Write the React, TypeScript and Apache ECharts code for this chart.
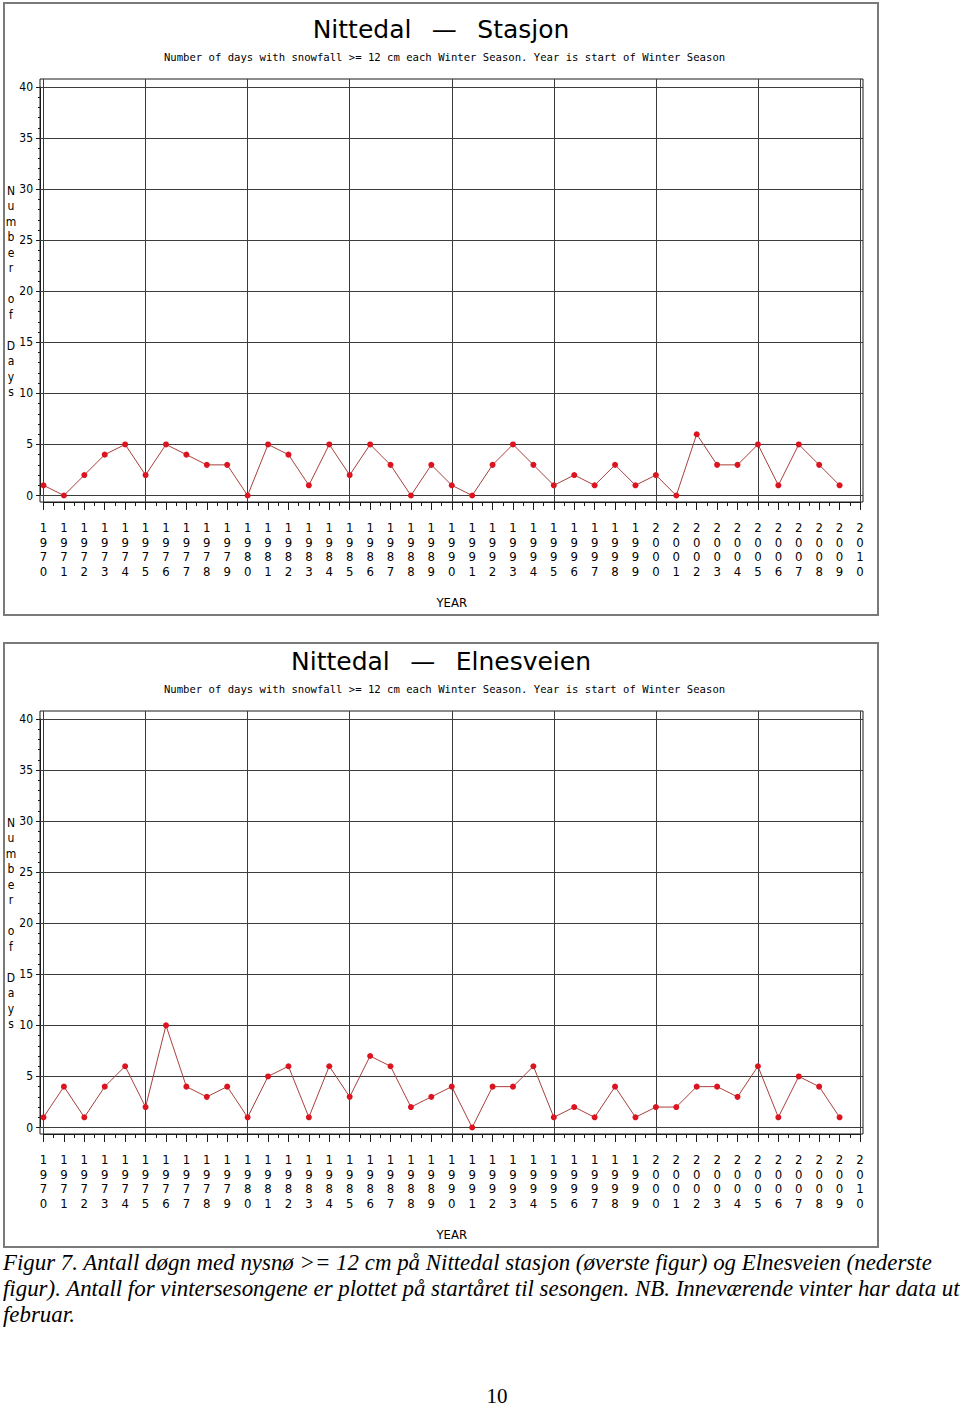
import React, { useEffect, useRef } from "react";
import * as echarts from "echarts";

// ---------- data ----------
const seasonStartYears = [
  1970, 1971, 1972, 1973, 1974, 1975, 1976, 1977, 1978, 1979,
  1980, 1981, 1982, 1983, 1984, 1985, 1986, 1987, 1988, 1989,
  1990, 1991, 1992, 1993, 1994, 1995, 1996, 1997, 1998, 1999,
  2000, 2001, 2002, 2003, 2004, 2005, 2006, 2007, 2008, 2009,
];
const stasjonDays = [
  1, 0, 2, 4, 5, 2, 5, 4, 3, 3,
  0, 5, 4, 1, 5, 2, 5, 3, 0, 3,
  1, 0, 3, 5, 3, 1, 2, 1, 3, 1,
  2, 0, 6, 3, 3, 5, 1, 5, 3, 1,
];
const elnesveienDays = [
  1, 4, 1, 4, 6, 2, 10, 4, 3, 4,
  1, 5, 6, 1, 6, 3, 7, 6, 2, 3,
  4, 0, 4, 4, 6, 1, 2, 1, 4, 1,
  2, 2, 4, 4, 3, 6, 1, 5, 4, 1,
];
const panelTitles = ["Nittedal \u2002\u2014\u2002 Stasjon", "Nittedal \u2002\u2014\u2002 Elnesveien"];
const subTitle =
  "Number of days with snowfall >= 12 cm each Winter Season. Year is start of Winter Season";
const xAxisName = "YEAR";
const yAxisName = "Number of Days";
const xMin = 1970;
const xMax = 2010;
const yMin = 0;
const yMax = 40;
const captionLines = [
  "Figur 7. Antall døgn med nysnø >= 12 cm på Nittedal stasjon (øverste figur) og Elnesveien (nederste",
  "figur). Antall for vintersesongene er plottet på startåret til sesongen. NB. Inneværende vinter har data ut",
  "februar.",
];
const pageNumber = "10";

// ---------- layout / style ----------
const W = 960;
const H = 1409;
const PANEL_DY = 632;
const GRID_LEFT = 43.5;
const GRID_RIGHT_X = 860;
const GRID_TOP = 87;
const GRID_H = 408.5;
const FRAME = { x: 40, y: 79, w: 823, h: 423 };
const NARROW = "'Liberation Sans Narrow', 'DejaVu Sans Condensed', 'Arial Narrow', sans-serif";
const AXIS_C = "#1a1a1a";
const GRID_C = "#3c3c3c";
const MARK_C = "#dc1420";
const LINE_C = "#a8403c";

function verticalDigits(v: number) {
  return String(Math.round(v)).split("").join("\n");
}

function stackedLetters(s: string) {
  return s.split("").join("\n").replace(/\n \n/g, "\n\n");
}

function buildOption() {
  const grids: any[] = [];
  const xAxes: any[] = [];
  const yAxes: any[] = [];
  const series: any[] = [];
  const graphics: any[] = [];
  const datasets = [stasjonDays, elnesveienDays];

  datasets.forEach((vals, k) => {
    const dy = k * PANEL_DY;
    grids.push({
      left: GRID_LEFT,
      top: GRID_TOP + dy,
      width: GRID_RIGHT_X - GRID_LEFT,
      height: GRID_H,
      containLabel: false,
    });
    const gi = k;
    const xBase = { type: "value", gridIndex: gi, min: xMin, max: xMax };
    xAxes.push(
      {
        ...xBase,
        position: "bottom",
        offset: 6.5,
        interval: 1,
        axisLine: { show: true, onZero: false, lineStyle: { color: AXIS_C, width: 1 } },
        axisTick: { show: true, inside: false, length: 8, lineStyle: { color: AXIS_C, width: 1 } },
        minorTick: { show: true, splitNumber: 2, length: 4, lineStyle: { color: AXIS_C, width: 1 } },
        axisLabel: {
          show: true,
          margin: 18,
          formatter: verticalDigits,
          fontFamily: NARROW,
          fontSize: 13,
          lineHeight: 14.7,
          color: "#000",
        },
        splitLine: { show: false },
        minorSplitLine: { show: false },
        name: xAxisName,
        nameLocation: "middle",
        nameGap: 100,
        nameTextStyle: { fontFamily: NARROW, fontSize: 13, color: "#000", verticalAlign: "middle" },
      },
      {
        ...xBase,
        position: "bottom",
        offset: 6.5,
        interval: 5,
        axisLine: { show: false, onZero: false },
        axisTick: { show: true, inside: true, length: 6.5, lineStyle: { color: GRID_C, width: 1 } },
        axisLabel: { show: false },
        splitLine: { show: true, lineStyle: { color: GRID_C, width: 1 } },
      },
      {
        ...xBase,
        position: "top",
        offset: 8,
        interval: 5,
        axisLine: { show: false, onZero: false },
        axisTick: { show: true, inside: true, length: 8, lineStyle: { color: GRID_C, width: 1 } },
        axisLabel: { show: false },
        splitLine: { show: false },
      }
    );
    const yBase = { type: "value", gridIndex: gi, min: yMin, max: yMax, interval: 5 };
    yAxes.push(
      {
        ...yBase,
        position: "left",
        offset: 3.5,
        axisLine: { show: true, onZero: false, lineStyle: { color: AXIS_C, width: 1 } },
        axisTick: { show: true, inside: false, length: 4, lineStyle: { color: AXIS_C, width: 1 } },
        minorTick: { show: true, splitNumber: 5, length: 2, lineStyle: { color: AXIS_C, width: 1 } },
        axisLabel: { show: true, margin: 7, fontFamily: NARROW, fontSize: 12, color: "#000" },
        splitLine: { show: true, lineStyle: { color: GRID_C, width: 1 } },
        minorSplitLine: { show: false },
      },
      {
        ...yBase,
        position: "left",
        offset: 3.5,
        axisLine: { show: false, onZero: false },
        axisTick: { show: true, inside: true, length: 3.5, lineStyle: { color: GRID_C, width: 1 } },
        axisLabel: { show: false },
        splitLine: { show: false },
      },
      {
        ...yBase,
        position: "right",
        offset: 3,
        axisLine: { show: false, onZero: false },
        axisTick: { show: true, inside: true, length: 3, lineStyle: { color: GRID_C, width: 1 } },
        axisLabel: { show: false },
        splitLine: { show: false },
      }
    );
    series.push({
      type: "line",
      name: panelTitles[k],
      xAxisIndex: k * 3,
      yAxisIndex: k * 3,
      data: seasonStartYears.map((y, i) => [y, vals[i]]),
      symbol: "circle",
      symbolSize: 6,
      showSymbol: true,
      lineStyle: { color: LINE_C, width: 1 },
      itemStyle: { color: MARK_C },
      z: 5,
    });

    // decorations: outer figure border, plot frame, titles, y-axis title
    graphics.push(
      {
        type: "rect",
        shape: { x: 4, y: 3 + dy + (k ? 8 : 0), width: 874, height: k ? 604 : 612 },
        style: { fill: "none", stroke: "#7a7a7a", lineWidth: 2 },
        silent: true,
      },
      {
        type: "rect",
        shape: { x: FRAME.x, y: FRAME.y + dy, width: FRAME.w, height: FRAME.h },
        style: { fill: "none", stroke: AXIS_C, lineWidth: 1 },
        silent: true,
      },
      {
        type: "text",
        x: 441,
        y: 29 + dy,
        style: {
          text: panelTitles[k],
          fontFamily: "'DejaVu Sans', sans-serif",
          fontSize: 25,
          fill: "#000",
          textAlign: "center",
          textVerticalAlign: "middle",
        },
        silent: true,
      },
      {
        type: "text",
        x: 444.5,
        y: 57 + dy,
        style: {
          text: subTitle,
          fontFamily: "'DejaVu Sans Mono', monospace",
          fontSize: 10.6,
          fill: "#000",
          textAlign: "center",
          textVerticalAlign: "middle",
        },
        silent: true,
      },
      {
        type: "text",
        x: 11,
        y: GRID_TOP + GRID_H / 2 + dy,
        style: {
          text: stackedLetters(yAxisName),
          fontFamily: NARROW,
          fontSize: 12,
          lineHeight: 15.5,
          fill: "#000",
          textAlign: "center",
          textVerticalAlign: "middle",
        },
        silent: true,
      }
    );
  });

  captionLines.forEach((line, i) => {
    graphics.push({
      type: "text",
      x: 3,
      y: 1262 + i * 26,
      style: {
        text: line,
        fontFamily: "'Liberation Serif', 'Times New Roman', serif",
        fontStyle: "italic",
        fontSize: 22.9,
        fill: "#000",
        textAlign: "left",
        textVerticalAlign: "middle",
      },
      silent: true,
    });
  });
  graphics.push({
    type: "text",
    x: 497,
    y: 1396,
    style: {
      text: pageNumber,
      fontFamily: "'Liberation Serif', 'Times New Roman', serif",
      fontSize: 21,
      fill: "#000",
      textAlign: "center",
      textVerticalAlign: "middle",
    },
    silent: true,
  });

  return {
    animation: false,
    backgroundColor: "#ffffff",
    grid: grids,
    xAxis: xAxes,
    yAxis: yAxes,
    series,
    graphic: graphics,
  };
}

export default function App() {
  const ref = useRef<HTMLDivElement>(null);
  useEffect(() => {
    if (!ref.current) return;
    const chart = echarts.init(ref.current, undefined, { renderer: "svg" });
    chart.setOption(buildOption() as any);
    return () => chart.dispose();
  }, []);
  return (
    <div
      ref={ref}
      style={{ position: "absolute", left: 0, top: 0, width: W, height: H, background: "#fff" }}
    />
  );
}
